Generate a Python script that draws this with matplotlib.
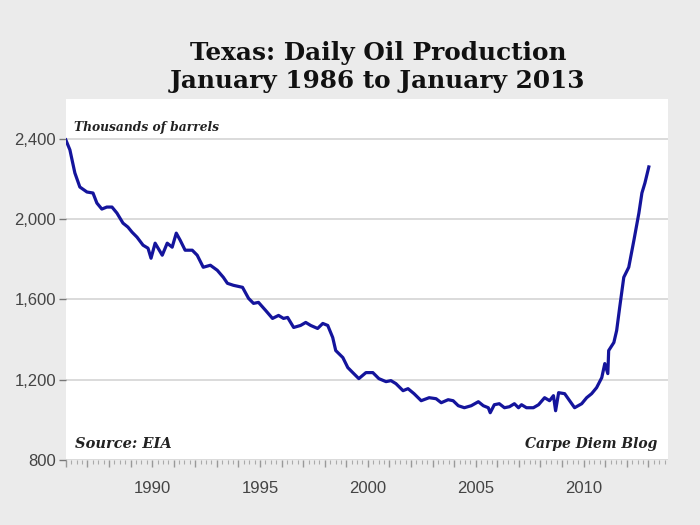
import matplotlib
matplotlib.use('Agg')
import matplotlib.pyplot as plt
from matplotlib.ticker import MultipleLocator, FuncFormatter

# decimal year, thousands of barrels per day
years = [1986.0, 1986.19, 1986.42, 1986.65, 1986.98, 1987.26, 1987.44, 1987.67, 1987.9,
         1988.14, 1988.37, 1988.65, 1988.88, 1989.07, 1989.3, 1989.58, 1989.81, 1989.95,
         1990.14, 1990.47, 1990.7, 1990.93, 1991.12, 1991.3, 1991.53, 1991.86, 1992.09,
         1992.37, 1992.7, 1993.02, 1993.3, 1993.49, 1993.77, 1994.19, 1994.47, 1994.7,
         1994.93, 1995.26, 1995.58, 1995.86, 1996.09, 1996.28, 1996.56, 1996.88, 1997.12,
         1997.35, 1997.67, 1997.91, 1998.14, 1998.37, 1998.51, 1998.84, 1999.07, 1999.3,
         1999.58, 1999.91, 2000.23, 2000.51, 2000.84, 2001.07, 2001.3, 2001.63, 2001.86,
         2002.14, 2002.47, 2002.84, 2003.16, 2003.4, 2003.72, 2003.95, 2004.19, 2004.47,
         2004.79, 2005.12, 2005.35, 2005.58, 2005.67, 2005.86, 2006.09, 2006.33, 2006.56,
         2006.79, 2006.98, 2007.12, 2007.35, 2007.67, 2007.91, 2008.19, 2008.42, 2008.6,
         2008.7, 2008.84, 2009.12, 2009.35, 2009.58, 2009.91, 2010.14, 2010.37, 2010.6,
         2010.84, 2010.98, 2011.12, 2011.16, 2011.4, 2011.53, 2011.67, 2011.86, 2012.09,
         2012.33, 2012.56, 2012.7, 2012.84, 2013.02]
production = [2395, 2345, 2230, 2160, 2135, 2130, 2080, 2050, 2060,
              2060, 2030, 1980, 1960, 1935, 1910, 1870, 1855, 1805,
              1880, 1820, 1880, 1860, 1930, 1895, 1845, 1845, 1820,
              1760, 1770, 1745, 1710, 1680, 1670, 1660, 1605, 1580,
              1585, 1545, 1505, 1520, 1505, 1510, 1460, 1470, 1485,
              1470, 1455, 1480, 1470, 1410, 1345, 1310, 1260, 1235,
              1205, 1235, 1235, 1205, 1190, 1195, 1180, 1145, 1155,
              1130, 1095, 1110, 1105, 1085, 1100, 1095, 1070, 1060,
              1070, 1090, 1070, 1060, 1035, 1075, 1080, 1060, 1065,
              1080, 1060, 1075, 1060, 1060, 1075, 1110, 1095, 1120,
              1045, 1135, 1130, 1095, 1060, 1080, 1110, 1130, 1160,
              1210, 1280, 1230, 1345, 1385, 1445, 1560, 1710, 1760,
              1895, 2030, 2130, 2180, 2260]

y_ticks = [800, 1200, 1600, 2000, 2400]
x_labels = [1990, 1995, 2000, 2005, 2010]

fig = plt.figure(figsize=(7, 5.25), dpi=100, facecolor='#ebebeb')
ax = fig.add_axes([0.094, 0.124, 0.860, 0.688])
ax.set_facecolor('white')

ax.plot(years, production, color='#14149c', lw=2.3, solid_joinstyle='round')

ax.set_xlim(1986, 2013.9)
ax.set_ylim(800, 2600)
ax.set_yticks(y_ticks)
ax.yaxis.set_major_formatter(FuncFormatter(lambda v, p: '{:,.0f}'.format(v)))
ax.grid(axis='y', color='#d4d4d4', lw=1.2)
ax.set_axisbelow(True)

ax.xaxis.set_major_locator(MultipleLocator(1))
ax.xaxis.set_minor_locator(MultipleLocator(0.25))
ax.xaxis.set_major_formatter(FuncFormatter(
    lambda v, p: str(int(round(v))) if int(round(v)) in x_labels else ''))

for s in ax.spines.values():
    s.set_visible(False)

ax.tick_params(axis='y', length=5, width=1, color='#777777', labelcolor='#444444',
               labelsize=12, pad=2)
ax.tick_params(axis='x', which='major', length=5, width=1, color='#999999',
               labelcolor='#444444', labelsize=12, pad=10)
ax.tick_params(axis='x', which='minor', length=3, width=0.8, color='#aaaaaa')
for lab in ax.get_xticklabels() + ax.get_yticklabels():
    lab.set_family(['Liberation Sans', 'DejaVu Sans'])

serif = ['DejaVu Serif']
fig.text(0.54, 0.872, 'Texas: Daily Oil Production\nJanuary 1986 to January 2013',
         ha='center', va='center', fontsize=17.8, fontweight='bold', family=serif,
         linespacing=1.2, color='#111111')
ax.text(1986.4, 2458, 'Thousands of barrels', ha='left', va='center',
        fontsize=8.8, fontweight='bold', style='italic', family=serif, color='#222222')
ax.text(0.016, 0.045, 'Source: EIA', transform=ax.transAxes, ha='left', va='center',
        fontsize=10.5, fontweight='bold', style='italic', family=serif, color='#222222')
ax.text(0.983, 0.045, 'Carpe Diem Blog', transform=ax.transAxes, ha='right', va='center',
        fontsize=10, fontweight='bold', style='italic', family=serif, color='#222222')

fig.savefig('out.png', dpi=100, facecolor=fig.get_facecolor())
